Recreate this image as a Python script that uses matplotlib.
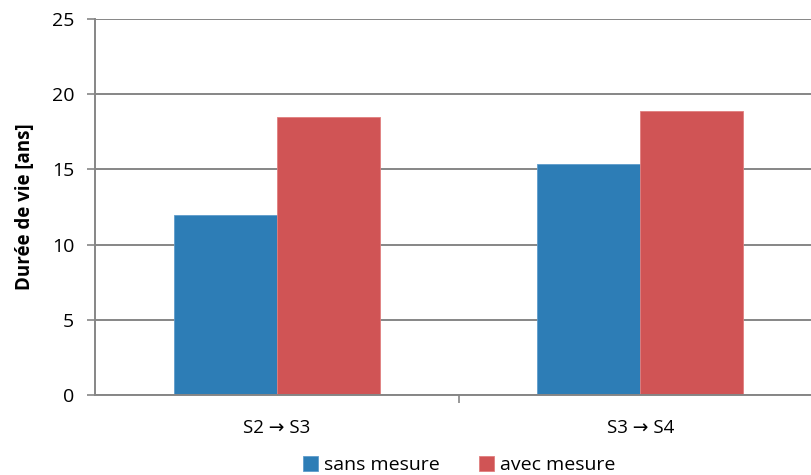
import numpy as np
import matplotlib
matplotlib.use("Agg")
import matplotlib.pyplot as plt

plt.rcParams['font.family'] = ['Open Sans', 'DejaVu Sans']

# data
categories = ['S2 \u2192 S3', 'S3 \u2192 S4']
sans_mesure = [12.0, 15.35]
avec_mesure = [18.5, 18.85]

fig = plt.figure(figsize=(8.11, 4.75), dpi=100)
# the plot area runs past the right edge of the picture, as in the reference
ax = fig.add_axes([95 / 811, 1 - 395 / 475, 727 / 811, 376 / 475])

x = np.arange(len(categories))
w = 0.284
grey = '#868686'
ax.bar(x - w / 2, sans_mesure, w, color='#2D7DB6', edgecolor='#5F9CCB', linewidth=0.6,
       label='sans mesure', zorder=3)
ax.bar(x + w / 2, avec_mesure, w, color='#D05455', edgecolor='#E07E7F', linewidth=0.6,
       label='avec mesure', zorder=3)

ax.set_xlim(-0.5, len(categories) - 0.5)
ax.set_ylim(0, 25)
ax.set_yticks([0, 5, 10, 15, 20, 25])
ax.yaxis.grid(True, color=grey, linewidth=1.4, zorder=0)

ax.set_xticks(x)
ax.set_xticklabels(categories, fontsize=13.5)
ax.set_xticks([0.5], minor=True)
ax.tick_params(axis='x', which='major', length=0, pad=17)
ax.tick_params(axis='x', which='minor', length=6, color=grey, width=1.2)
ax.tick_params(axis='y', length=6, color=grey, width=1.2, labelsize=14, pad=9)

for s in ['top', 'right']:
    ax.spines[s].set_visible(False)
for s in ['left', 'bottom']:
    ax.spines[s].set_color(grey)
    ax.spines[s].set_linewidth(1.4)
ax.spines['bottom'].set_zorder(4)

ax.set_ylabel('Durée de vie [ans]', fontsize=13.5, fontweight='bold', labelpad=12)

ax.legend(loc='center', bbox_to_anchor=(459 / 811, 1 - 465 / 475), bbox_transform=fig.transFigure,
          ncol=2, frameon=False, fontsize=14, handlelength=0.8, handleheight=0.8,
          handletextpad=0.3, columnspacing=2.0, borderpad=0.2)

fig.savefig('out.png', dpi=100)
